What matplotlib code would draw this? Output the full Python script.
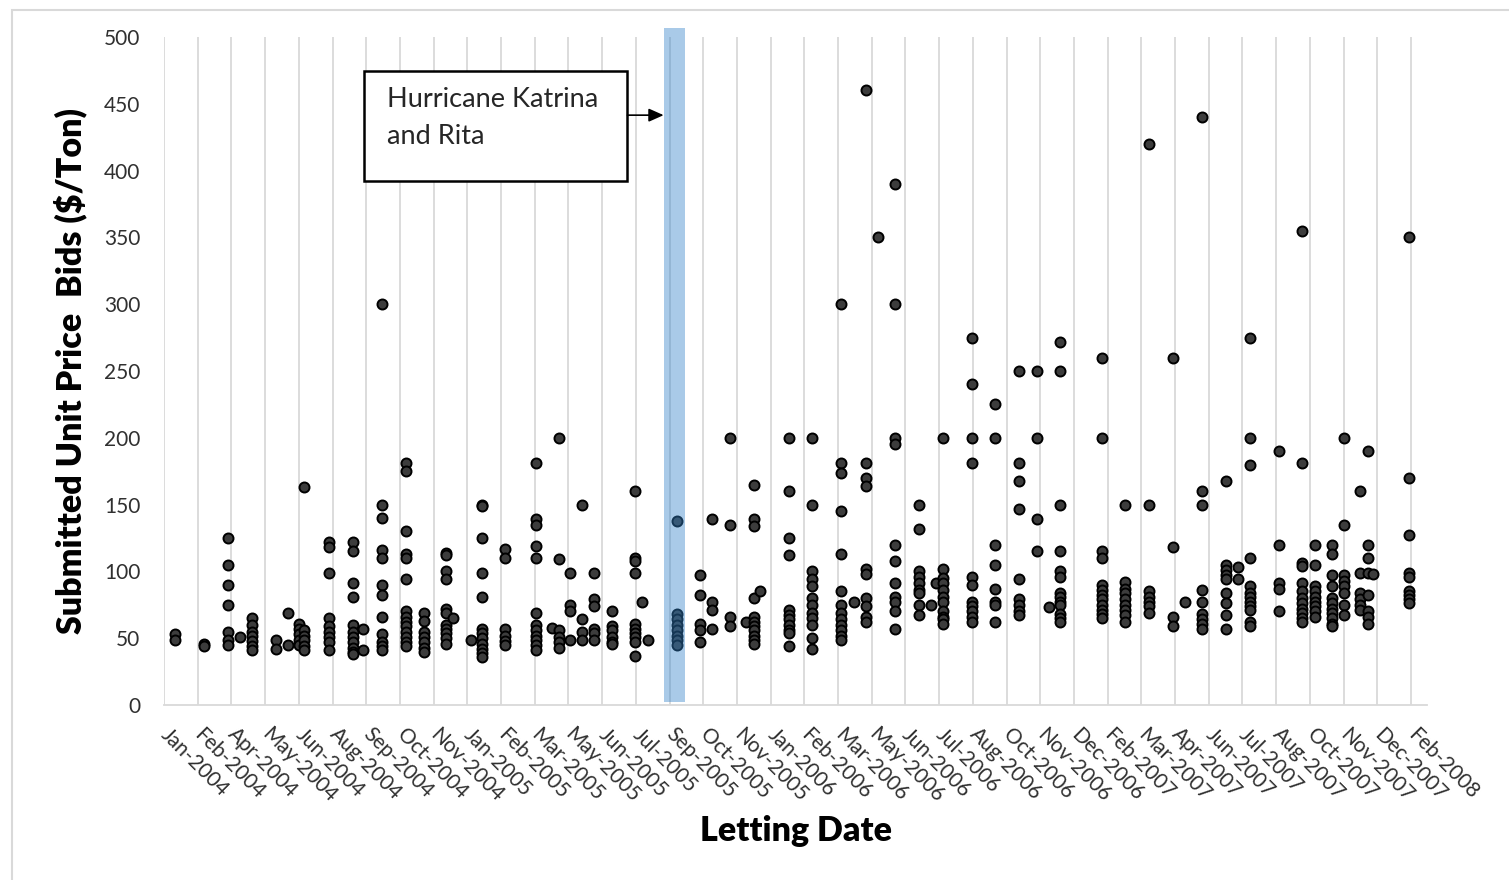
import matplotlib
matplotlib.use("Agg")
import matplotlib.pyplot as plt
import matplotlib.dates as mdates
from matplotlib.patches import Rectangle
import pandas as pd

# letting dates (one column of dots per letting) and the bids submitted on each
letting_dates = [
    "2004-01-27", "2004-03-02", "2004-03-30", "2004-04-13", "2004-04-28", "2004-05-26",
    "2004-06-09", "2004-06-22", "2004-06-28", "2004-07-28", "2004-08-25", "2004-09-06",
    "2004-09-29", "2004-10-27", "2004-11-17", "2004-12-14", "2004-12-22", "2005-01-12",
    "2005-01-26", "2005-02-22", "2005-03-30", "2005-04-19", "2005-04-27", "2005-05-10",
    "2005-05-24", "2005-06-07", "2005-06-29", "2005-07-26", "2005-08-03", "2005-08-10",
    "2005-09-14", "2005-10-11", "2005-10-25", "2005-11-16", "2005-12-05", "2005-12-14",
    "2005-12-21", "2006-01-25", "2006-02-21", "2006-03-28", "2006-04-12", "2006-04-26",
    "2006-05-10", "2006-05-31", "2006-06-28", "2006-07-12", "2006-07-18", "2006-07-26",
    "2006-08-30", "2006-09-26", "2006-10-25", "2006-11-15", "2006-11-29", "2006-12-13",
    "2007-01-31", "2007-02-28", "2007-03-28", "2007-04-25", "2007-05-10", "2007-05-30",
    "2007-06-27", "2007-07-12", "2007-07-26", "2007-08-29", "2007-09-26", "2007-10-11",
    "2007-10-31", "2007-11-14", "2007-12-04", "2007-12-13", "2007-12-19", "2008-01-31",
]

bids = [
    [53, 49],
    [46, 44],
    [125, 105, 90, 75, 55, 49, 45],
    [51],
    [65, 60, 55, 52, 48, 44, 41],
    [49, 42],
    [69, 45],
    [61, 57, 53, 49, 45],
    [163, 56, 52, 49, 44, 41],
    [122, 118, 99, 65, 59, 55, 51, 47, 41],
    [122, 115, 91, 81, 60, 55, 51, 47, 43, 40, 38],
    [57, 41],
    [300, 150, 140, 116, 110, 90, 82, 66, 53, 47, 44, 41],
    [181, 175, 130, 113, 110, 94, 70, 66, 62, 59, 55, 51, 47, 44],
    [69, 63, 55, 51, 47, 43, 40],
    [114, 112, 100, 94, 72, 69, 60, 57, 54, 50, 46],
    [65],
    [49],
    [150, 149, 125, 99, 81, 57, 54, 50, 46, 42, 39, 36],
    [117, 110, 57, 52, 48, 45],
    [181, 139, 135, 119, 110, 69, 60, 56, 52, 49, 45, 41],
    [58],
    [200, 109, 56, 51, 47, 43],
    [99, 75, 70, 49],
    [150, 64, 55, 49],
    [99, 79, 74, 57, 54, 49],
    [70, 59, 56, 51, 47, 46],
    [160, 110, 108, 99, 61, 57, 54, 51, 47, 37],
    [77],
    [49],
    [138, 68, 64, 60, 56, 52, 49, 45],
    [97, 82, 61, 56, 47],
    [139, 77, 71, 57],
    [200, 135, 66, 59],
    [62],
    [165, 139, 134, 80, 66, 62, 59, 56, 52, 49, 46],
    [85],
    [200, 160, 125, 112, 71, 67, 64, 60, 56, 54, 44],
    [200, 150, 100, 94, 89, 80, 75, 69, 65, 60, 50, 42],
    [300, 181, 174, 145, 113, 85, 75, 69, 64, 60, 56, 52, 49],
    [77],
    [460, 181, 170, 164, 102, 98, 80, 74, 66, 62],
    [350],
    [390, 300, 200, 195, 120, 108, 91, 81, 77, 70, 57],
    [150, 132, 100, 96, 91, 86, 84, 75, 67],
    [75],
    [91],
    [200, 102, 95, 91, 86, 81, 77, 70, 66, 64, 61],
    [275, 240, 200, 181, 96, 90, 77, 74, 70, 66, 62],
    [225, 200, 120, 105, 87, 77, 75, 62],
    [250, 181, 168, 147, 94, 79, 75, 70, 67],
    [250, 200, 139, 115],
    [73],
    [272, 250, 150, 115, 100, 96, 84, 81, 77, 75, 68, 65, 62],
    [260, 200, 115, 110, 90, 86, 82, 79, 75, 71, 68, 65],
    [150, 92, 87, 84, 79, 75, 71, 67, 62],
    [420, 150, 85, 81, 77, 74, 69],
    [260, 118, 66, 59],
    [77],
    [440, 160, 150, 86, 77, 68, 64, 61, 57],
    [168, 105, 101, 97, 94, 84, 76, 67, 57],
    [103, 94],
    [275, 200, 180, 110, 89, 84, 81, 77, 74, 71, 62, 59],
    [190, 120, 91, 87, 70],
    [355, 181, 106, 104, 91, 85, 80, 76, 72, 69, 65, 62],
    [120, 105, 89, 85, 81, 77, 74, 70, 66],
    [120, 113, 97, 89, 80, 76, 72, 69, 65, 61, 59],
    [200, 135, 97, 93, 89, 84, 75, 67],
    [160, 99, 84, 79, 75, 71],
    [190, 120, 110, 99, 82, 70, 66, 61],
    [98],
    [350, 170, 127, 99, 96, 85, 82, 79, 76],
]

hurricane_start = "2005-08-30"
hurricane_end = "2005-09-23"

rows = []
for d, vals in zip(letting_dates, bids):
    for v in vals:
        rows.append((pd.Timestamp(d), v))
df = pd.DataFrame(rows, columns=["date", "bid"])

plt.rcParams["font.family"] = ["Lato", "DejaVu Sans"]

fig = plt.figure(figsize=(15.09, 8.8), dpi=100)
ax = fig.add_axes([164 / 1509, 175 / 880, (1427 - 164) / 1509, (705 - 37) / 880])

ax.scatter(df["date"], df["bid"], s=52, facecolor="#3c3c3c", edgecolor="black",
           linewidth=1.4, zorder=3)

# axis: Excel style date axis, major unit 40 days
axis_start = pd.Timestamp("2004-01-14")
ticks = pd.date_range(axis_start, periods=38, freq="40D")
ax.set_xlim(mdates.date2num(axis_start), mdates.date2num(axis_start + pd.Timedelta(days=1499)))
ax.set_ylim(0, 500)
ax.set_yticks(range(0, 501, 50))
ax.set_xticks(ticks)
ax.set_xticklabels([t.strftime("%b-%Y") for t in ticks], rotation=-45, ha="left",
                   va="center", rotation_mode="anchor")
ax.grid(axis="x", color="#d9d9d9", linewidth=1.3, zorder=0)
ax.tick_params(axis="both", length=0, labelsize=15, labelcolor="#303030")
ax.tick_params(axis="y", pad=17)
ax.tick_params(axis="x", pad=19)
for side in ["left", "top", "right"]:
    ax.spines[side].set_visible(False)
ax.spines["bottom"].set_color("#d9d9d9")
ax.spines["bottom"].set_linewidth(1.3)

ax.set_ylabel("Submitted Unit Price  Bids ($/Ton)", fontsize=24.5, fontweight="heavy",
              color="black", labelpad=12)
ax.set_xlabel("Letting Date", fontsize=24.5, fontweight="heavy", color="black", labelpad=6)

# hurricane band
x0 = mdates.date2num(pd.Timestamp(hurricane_start))
x1 = mdates.date2num(pd.Timestamp(hurricane_end))
ax.add_patch(Rectangle((x0, 2), x1 - x0, 505, facecolor="#3282ca", alpha=0.42,
                       edgecolor="none", zorder=4, clip_on=False))

# annotation box + arrow
bx0 = mdates.date2num(pd.Timestamp("2004-09-07"))
bx1 = mdates.date2num(pd.Timestamp("2005-07-17"))
ax.add_patch(Rectangle((bx0, 392), bx1 - bx0, 82.5, facecolor="white", edgecolor="black",
                       linewidth=1.8, zorder=5))
ax.text(mdates.date2num(pd.Timestamp("2004-10-05")), 439.5, "Hurricane Katrina\nand Rita",
        fontsize=19.5, color="#262626", va="center", ha="left", linespacing=1.6, zorder=6)
ax.annotate("", xy=(x0 - 1, 441.5), xytext=(bx1, 441.5),
            arrowprops=dict(arrowstyle="-|>,head_length=0.9,head_width=0.4", color="black",
                            lw=1.2, shrinkA=0, shrinkB=0), zorder=6)

# chart frame
fig.add_artist(Rectangle((12 / 1509, -0.01), 1.0, 0.004 + 1.0 - 5 / 880, transform=fig.transFigure,
                         facecolor="none", edgecolor="#d9d9d9", linewidth=1.5))

fig.savefig("out.png", dpi=100)
